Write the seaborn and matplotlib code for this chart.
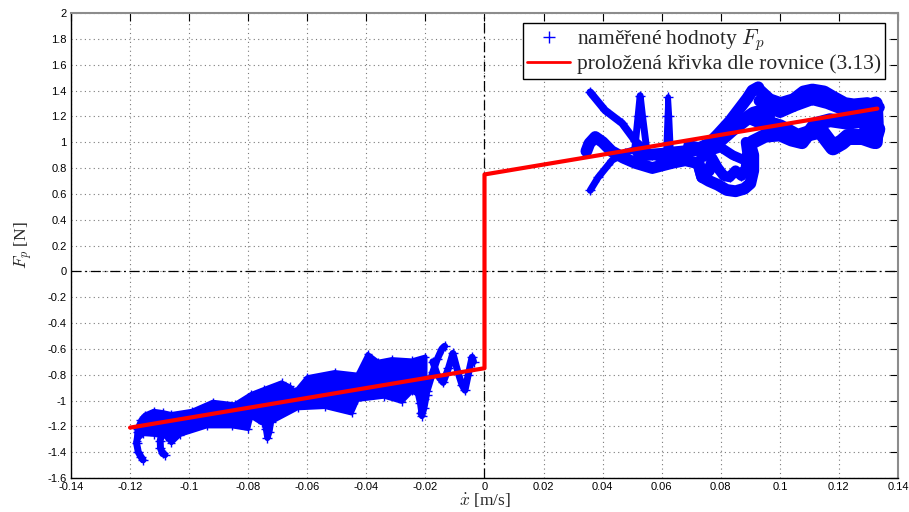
import numpy as np
import pandas as pd
import matplotlib
matplotlib.use("Agg")
import matplotlib.pyplot as plt
from matplotlib.lines import Line2D
import seaborn as sns

sns.set_theme(style="white")
plt.rcParams["font.family"] = ["Liberation Serif", "DejaVu Serif"]
plt.rcParams["mathtext.fontset"] = "cm"

# ---------------------------------------------------------------- data
# fitted friction model, eq. (3.13): F = Fc*sign(v) + b*v
fit_v = [-0.12, 0.0, 0.0, 0.133]
fit_F = [-1.21, -0.75, 0.75, 1.26]

# measured cloud for negative velocity: upper / lower envelope
neg_upper_v = [-0.1178, -0.1165, -0.1150, -0.1120, -0.1090, -0.1060, -0.0990, -0.0920,
               -0.0846, -0.0790, -0.0745, -0.0687, -0.0660, -0.0640, -0.0600, -0.0507,
               -0.0430, -0.0395, -0.0360, -0.0314, -0.0246, -0.0200]
neg_upper_F = [-1.22, -1.15, -1.11, -1.08, -1.09, -1.105, -1.08, -1.01,
               -1.03, -0.95, -0.91, -0.86, -0.89, -0.93, -0.82, -0.78,
               -0.80, -0.64, -0.70, -0.68, -0.69, -0.66]
neg_lower_v = [-0.1178, -0.1155, -0.1120, -0.1080, -0.1060, -0.1030, -0.0940, -0.0855,
               -0.0800, -0.0790, -0.0755, -0.0720, -0.0633, -0.0540, -0.0450, -0.0430,
               -0.0340, -0.0280, -0.0246, -0.0200]
neg_lower_F = [-1.31, -1.26, -1.265, -1.28, -1.33, -1.265, -1.20, -1.20,
               -1.22, -1.125, -1.175, -1.165, -1.06, -1.05, -1.10, -0.995,
               -0.97, -1.01, -0.93, -0.985]

# individual measured trajectories (velocity, force)
hook1_v = [-0.1172, -0.1178, -0.1172, -0.1162, -0.1156]
hook1_F = [-1.24, -1.33, -1.40, -1.44, -1.46]
hook2_v = [-0.1090, -0.1098, -0.1097, -0.1090, -0.1082]
hook2_F = [-1.24, -1.31, -1.37, -1.41, -1.42]
dip1_v = [-0.0748, -0.0740, -0.0735, -0.0728, -0.0722]
dip1_F = [-1.12, -1.22, -1.29, -1.24, -1.15]
dip2_v = [-0.0228, -0.0218, -0.0212, -0.0204, -0.0196]
dip2_F = [-0.92, -1.02, -1.12, -1.06, -0.96]
zig1_v = [-0.0215, -0.0195, -0.0175, -0.0160, -0.0144, -0.0135]
zig1_F = [-1.10, -0.93, -0.78, -0.68, -0.60, -0.58]
zig2_v = [-0.0175, -0.0160, -0.0140, -0.0122, -0.0107, -0.0090, -0.0076, -0.0066,
          -0.0055, -0.0042, -0.0037]
zig2_F = [-0.70, -0.80, -0.86, -0.75, -0.635, -0.78, -0.88, -0.92, -0.80, -0.665, -0.70]

diag_dn_v = [0.0358, 0.0408, 0.0466, 0.0510, 0.0568, 0.0620]
diag_dn_F = [1.386, 1.247, 1.146, 1.01, 0.90, 0.85]
diag_up_v = [0.0358, 0.0385, 0.0432, 0.0476, 0.0520]
diag_up_F = [0.627, 0.728, 0.86, 0.92, 0.95]
low_band_v = [0.0345, 0.0355, 0.0375, 0.0400, 0.0430, 0.0470, 0.0510, 0.0568, 0.0636,
              0.0680, 0.0724, 0.0737, 0.0760, 0.0770]
low_band_F = [0.93, 0.99, 1.04, 1.00, 0.93, 0.88, 0.84, 0.80, 0.84,
              0.86, 0.836, 0.73, 0.78, 0.84]
spike1_v = [0.0508, 0.0520, 0.0527, 0.0535, 0.0550]
spike1_F = [0.93, 1.20, 1.36, 1.20, 0.93]
spike2_v = [0.0615, 0.0619, 0.0622, 0.0626, 0.0631]
spike2_F = [0.95, 1.20, 1.35, 1.20, 0.95]
mid_band_v = [0.0520, 0.0544, 0.0600, 0.0636, 0.0680, 0.0714]
mid_band_F = [0.92, 0.90, 0.91, 0.92, 0.93, 0.94]
rise_a_v = [0.0714, 0.0760, 0.0790, 0.0830, 0.0860, 0.0890, 0.0907, 0.0927]
rise_a_F = [0.94, 0.99, 1.06, 1.16, 1.25, 1.34, 1.40, 1.425]
rise_b_v = [0.0740, 0.0770, 0.0800, 0.0840, 0.0880, 0.0910, 0.0940, 0.0960]
rise_b_F = [0.90, 0.96, 1.02, 1.10, 1.17, 1.22, 1.24, 1.20]
blob_a_v = [0.0724, 0.0737, 0.0760, 0.0790, 0.0820, 0.0850, 0.0880, 0.0900, 0.0910,
            0.0910, 0.0900]
blob_a_F = [0.84, 0.73, 0.70, 0.67, 0.63, 0.62, 0.64, 0.68, 0.78, 0.90, 0.98]
blob_b_v = [0.0770, 0.0790, 0.0810, 0.0830, 0.0850, 0.0870, 0.0885, 0.0890, 0.0885]
blob_b_F = [0.88, 0.80, 0.74, 0.73, 0.78, 0.74, 0.80, 0.92, 1.00]
blob_c_v = [0.0690, 0.0730, 0.0760, 0.0800, 0.0840, 0.0880, 0.0905]
blob_c_F = [0.98, 0.96, 0.93, 0.96, 0.90, 0.86, 0.84]
arch_out_v = [0.0927, 0.0965, 0.1002, 0.1046, 0.1080, 0.1110, 0.1150, 0.1180, 0.1220,
              0.1250, 0.1296, 0.1334]
arch_out_F = [1.41, 1.33, 1.30, 1.33, 1.39, 1.405, 1.39, 1.35, 1.30, 1.29, 1.30, 1.27]
arch_in_v = [0.0930, 0.0970, 0.1000, 0.1050, 0.1110, 0.1160, 0.1205, 0.1260, 0.1330]
arch_in_F = [1.32, 1.26, 1.23, 1.28, 1.33, 1.30, 1.26, 1.22, 1.22]
right_low_v = [0.0910, 0.0950, 0.1000, 0.1060, 0.1100, 0.1137, 0.1160, 0.1180, 0.1210,
               0.1230, 0.1280, 0.1318, 0.1330]
right_low_F = [1.19, 1.15, 1.115, 1.04, 1.07, 1.09, 1.02, 0.96, 1.00, 1.04, 1.04, 1.01, 1.10]
right_mid_v = [0.0907, 0.0950, 0.1000, 0.1040, 0.1075, 0.1120, 0.1170, 0.1230, 0.1290]
right_mid_F = [1.00, 1.05, 1.06, 1.02, 1.00, 1.14, 1.17, 1.15, 1.17]
right_end_v = [0.1290, 0.1300, 0.1325, 0.1328, 0.1325]
right_end_F = [1.05, 1.28, 1.30, 1.15, 1.00]

traces = [
    ("hook1", hook1_v, hook1_F), ("hook2", hook2_v, hook2_F),
    ("dip1", dip1_v, dip1_F), ("dip2", dip2_v, dip2_F),
    ("zig1", zig1_v, zig1_F), ("zig2", zig2_v, zig2_F),
    ("diag_dn", diag_dn_v, diag_dn_F), ("diag_up", diag_up_v, diag_up_F),
    ("low_band", low_band_v, low_band_F), ("spike1", spike1_v, spike1_F),
    ("spike2", spike2_v, spike2_F), ("mid_band", mid_band_v, mid_band_F),
    ("rise_a", rise_a_v, rise_a_F), ("rise_b", rise_b_v, rise_b_F),
    ("blob_a", blob_a_v, blob_a_F), ("blob_b", blob_b_v, blob_b_F),
    ("blob_c", blob_c_v, blob_c_F),
    ("arch_out", arch_out_v, arch_out_F), ("arch_in", arch_in_v, arch_in_F),
    ("right_low", right_low_v, right_low_F), ("right_mid", right_mid_v, right_mid_F),
    ("right_end", right_end_v, right_end_F),
]
# stroke width (pt) of each trajectory band
trace_width = {
    "hook1": 5.0, "hook2": 5.0, "dip1": 4.5, "dip2": 4.5, "zig1": 5.0, "zig2": 5.0,
    "diag_dn": 5.5, "diag_up": 5.0, "low_band": 8.5, "spike1": 5.0, "spike2": 4.0,
    "mid_band": 8.5, "rise_a": 8.5, "rise_b": 10.0, "blob_a": 8.5, "blob_b": 7.5,
    "blob_c": 7.0, "arch_out": 9.0, "arch_in": 8.0, "right_low": 11.5,
    "right_mid": 10.0, "right_end": 10.0,
}

x_ticks = np.round(np.arange(-0.14, 0.1401, 0.02), 2)
y_ticks = np.round(np.arange(-1.6, 2.001, 0.2), 1)

# ---------------------------------------------------------------- figure
fig = plt.figure(figsize=(9.09, 5.12), dpi=100)
ax = fig.add_axes([0.0781, 0.0664, 0.9098, 0.9082])

BLUE = "#0000ff"

# negative-velocity cloud envelope
poly_v = neg_upper_v + neg_lower_v[::-1]
poly_F = neg_upper_F + neg_lower_F[::-1]
ax.fill(poly_v, poly_F, color=BLUE, lw=3.0, ec=BLUE, joinstyle="round", zorder=2)
sns.scatterplot(x=neg_upper_v + neg_lower_v, y=neg_upper_F + neg_lower_F, ax=ax,
                marker="+", color=BLUE, s=40, linewidth=1, zorder=2, legend=False)

for name, v, F in traces:
    df = pd.DataFrame({"v": v, "F": F})
    sns.lineplot(data=df, x="v", y="F", ax=ax, sort=False, estimator=None,
                 color=BLUE, lw=trace_width[name], marker="+", markersize=7,
                 mew=1, mec=BLUE, mfc=BLUE, solid_capstyle="round",
                 solid_joinstyle="round", zorder=2, legend=False)

# fitted model
sns.lineplot(x=fit_v, y=fit_F, ax=ax, sort=False, estimator=None, color="#ff0000",
             lw=3.0, zorder=5, legend=False)

# zero axes
ax.axhline(0, color="black", lw=0.9, ls=(0, (8, 3, 1.5, 3)), zorder=1)
ax.axvline(0, color="black", lw=0.9, ls=(0, (8, 3, 1.5, 3)), zorder=1)

ax.set_xlim(-0.14, 0.14)
ax.set_ylim(-1.6, 2.0)
ax.set_xticks(x_ticks)
ax.set_yticks(y_ticks)
ax.set_xticklabels([f"{t + 0.0:g}" if abs(t) > 1e-9 else "0" for t in x_ticks])
ax.set_yticklabels([f"{t + 0.0:g}" if abs(t) > 1e-9 else "0" for t in y_ticks])
ax.grid(True, color="#7a7a7a", ls=(0, (1, 3)), lw=0.8)
ax.set_axisbelow(True)

ax.tick_params(axis="both", which="both", direction="in", length=6, width=0.8,
               top=True, right=True, labelsize=8, pad=3, colors="black")
for lab in ax.get_xticklabels() + ax.get_yticklabels():
    lab.set_family(["Liberation Sans", "DejaVu Sans"])

for side in ["left", "bottom"]:
    ax.spines[side].set_color("black")
    ax.spines[side].set_linewidth(1.0)
for side in ["top", "right"]:
    ax.spines[side].set_color("#8c8c8c")
    ax.spines[side].set_linewidth(1.5)

ax.set_xlabel(r"$\dot{x}$ [m/s]", fontsize=12.5, labelpad=0)
ax.set_ylabel(r"$F_p$ [N]", fontsize=12.5, labelpad=9)

handles = [
    Line2D([], [], ls="none", marker="+", color=BLUE, markersize=8, mew=1),
    Line2D([], [], color="#ff0000", lw=2.0),
]
labels = [r"naměřené hodnoty $F_p$", "proložená křivka dle rovnice (3.13)"]
leg = ax.legend(handles, labels, loc="upper right",
                bbox_to_anchor=(885 / 909, 1 - 23 / 512),
                bbox_transform=fig.transFigure, fontsize=15.5, frameon=True,
                fancybox=False, framealpha=1, edgecolor="black",
                borderpad=0.2, labelspacing=0.05, handlelength=2.0,
                handletextpad=0.3, borderaxespad=0)
leg.get_frame().set_linewidth(1.0)

fig.savefig("out.png", dpi=100)
